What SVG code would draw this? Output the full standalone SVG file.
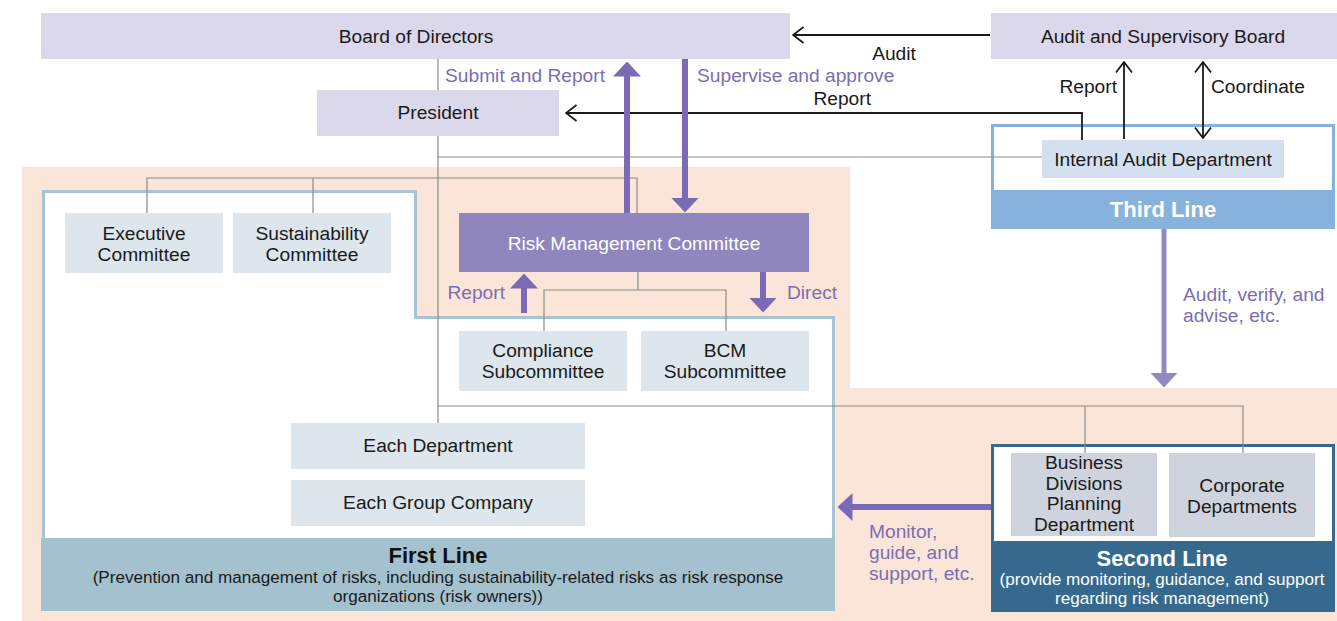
<svg xmlns="http://www.w3.org/2000/svg" width="1337" height="621" viewBox="0 0 1337 621">
  <style>
    text { font-family: "Liberation Sans", Arial, sans-serif; font-size: 19.2px; fill: #1a1a1a; }
    .c { text-anchor: middle; }
    .e { text-anchor: end; }
    .pl { fill: #7b6db5; }
    .w { fill: #ffffff; }
    .big { font-size: 22px; font-weight: bold; }
    .sub { font-size: 17.1px; }
    .lav { fill: #dcd8eb; }
    .box { fill: #dce6ec; }
    .box2 { fill: #cfd3de; }
    .wire { fill: none; stroke: #8a8a8a; stroke-width: 1.2; }
    .blk { fill: none; stroke: #1a1a1a; stroke-width: 1.8; }
    .pa { fill: none; stroke: #7a6bb4; stroke-width: 6; }
    .pa2 { fill: none; stroke: #9488c2; stroke-width: 5; }
  </style>
  <defs>
    <marker id="open" markerUnits="userSpaceOnUse" viewBox="0 0 13 18" markerWidth="13" markerHeight="18" refX="12" refY="9" orient="auto-start-reverse">
      <path d="M1.5,1 L12,9 L1.5,17" fill="none" stroke="#1a1a1a" stroke-width="1.8"/>
    </marker>
    <marker id="solid" markerUnits="userSpaceOnUse" viewBox="0 0 15 28" markerWidth="15" markerHeight="28" refX="0.5" refY="14" orient="auto">
      <path d="M0,0 L15,14 L0,28 Z" fill="#7a6bb4"/>
    </marker>
    <marker id="solid2" markerUnits="userSpaceOnUse" viewBox="0 0 15 28" markerWidth="15" markerHeight="28" refX="0.5" refY="14" orient="auto">
      <path d="M0,0 L15,14 L0,28 Z" fill="#9488c2"/>
    </marker>
  </defs>

  <!-- shaded zone behind the first and second lines -->
  <path d="M22,167 H850 V388 H1337 V621 H22 Z" fill="#fbe5d9"/>

  <!-- first line frame -->
  <g id="first-line">
    <path d="M43.5,191.5 H415.5 V317.5 H833.5 V540 H43.5 Z" fill="#ffffff" stroke="#a6c4d3" stroke-width="3"/>
    <rect x="41" y="538" width="794" height="73" fill="#a3c1cf"/>
    <text class="c big" x="438" y="563" style="fill:#111">First Line</text>
    <text class="c sub" x="438" y="583">(Prevention and management of risks, including sustainability-related risks as risk response</text>
    <text class="c sub" x="438" y="602">organizations (risk owners))</text>
  </g>

  <!-- second line frame -->
  <g id="second-line">
    <rect x="992.5" y="445.5" width="341" height="150" fill="#ffffff" stroke="#356a8e" stroke-width="3"/>
    <rect x="991" y="541" width="344" height="71" fill="#356a8e"/>
    <text class="c big w" x="1162" y="566">Second Line</text>
    <text class="c sub w" x="1162" y="585">(provide monitoring, guidance, and support</text>
    <text class="c sub w" x="1162" y="604">regarding risk management)</text>
  </g>

  <!-- third line frame -->
  <g id="third-line">
    <rect x="992.5" y="125.5" width="341" height="90" fill="#ffffff" stroke="#87b2dd" stroke-width="3"/>
    <rect x="991" y="190" width="344" height="39" fill="#87b2dd"/>
    <text class="c big w" x="1163" y="217">Third Line</text>
  </g>

  <!-- connectors -->
  <g id="connectors">
    <!-- org-chart wiring -->
    <path class="wire" d="M438,59 V423"/>
    <path class="wire" d="M438,157 H1042"/>
    <path class="wire" d="M147,213 V178 H637 V213"/>
    <path class="wire" d="M313,178 V213"/>
    <path class="wire" d="M638,272 V290"/>
    <path class="wire" d="M544,331 V290 H726 V331"/>
    <path class="wire" d="M438,406 H1243 V453"/>
    <path class="wire" d="M1085,406 V453"/>

    <!-- reporting lines -->
    <path class="blk" d="M990,35 H793" marker-end="url(#open)"/>
    <path class="blk" d="M1082,140 V113 H566" marker-end="url(#open)"/>
    <path class="blk" d="M1124,139 V62" marker-end="url(#open)"/>
    <path class="blk" d="M1203,138 V62" marker-start="url(#open)" marker-end="url(#open)"/>

    <!-- purple flows -->
    <path class="pa" d="M627,213 V76" marker-end="url(#solid)"/>
    <path class="pa" d="M685,59 V198" marker-end="url(#solid)"/>
    <path class="pa" d="M524,313 V288" marker-end="url(#solid)"/>
    <path class="pa" d="M763,272 V298" marker-end="url(#solid)"/>
    <path class="pa2" d="M1164,229 V373" marker-end="url(#solid2)"/>
    <path class="pa" d="M991,507 H852" marker-end="url(#solid)"/>

    <!-- flow labels -->
    <text x="894" y="60" class="c">Audit</text>
    <text x="871" y="105" class="e">Report</text>
    <text x="1117" y="93" class="e">Report</text>
    <text x="1211" y="93">Coordinate</text>
    <text x="445" y="82" class="pl">Submit and Report</text>
    <text x="697" y="82" class="pl">Supervise and approve</text>
    <text x="505" y="299" class="e pl">Report</text>
    <text x="787" y="299" class="pl">Direct</text>
    <text x="1183" y="301" class="pl">Audit, verify, and</text>
    <text x="1183" y="322" class="pl">advise, etc.</text>
    <text x="869" y="538" class="pl">Monitor,</text>
    <text x="869" y="559" class="pl">guide, and</text>
    <text x="869" y="580" class="pl">support, etc.</text>
  </g>

  <!-- nodes -->
  <g id="board-of-directors">
    <rect class="lav" x="41" y="13" width="749" height="46"/>
    <text class="c" x="416" y="43">Board of Directors</text>
  </g>
  <g id="president">
    <rect class="lav" x="317" y="90" width="242" height="46"/>
    <text class="c" x="438" y="119">President</text>
  </g>
  <g id="audit-supervisory-board">
    <rect class="lav" x="991" y="13" width="346" height="46"/>
    <text class="c" x="1163" y="43">Audit and Supervisory Board</text>
  </g>
  <g id="internal-audit-department">
    <rect x="1042" y="140" width="242" height="38" fill="#d4e0ef"/>
    <text class="c" x="1163" y="166">Internal Audit Department</text>
  </g>
  <g id="executive-committee">
    <rect class="box" x="65" y="213" width="158" height="60"/>
    <text class="c" x="144" y="240">Executive</text>
    <text class="c" x="144" y="261">Committee</text>
  </g>
  <g id="sustainability-committee">
    <rect class="box" x="233" y="213" width="158" height="60"/>
    <text class="c" x="312" y="240">Sustainability</text>
    <text class="c" x="312" y="261">Committee</text>
  </g>
  <g id="risk-management-committee">
    <rect x="459" y="213" width="350" height="59" fill="#9086be"/>
    <text class="c w" x="634" y="250">Risk Management Committee</text>
  </g>
  <g id="compliance-subcommittee">
    <rect class="box" x="459" y="331" width="168" height="60"/>
    <text class="c" x="543" y="357">Compliance</text>
    <text class="c" x="543" y="378">Subcommittee</text>
  </g>
  <g id="bcm-subcommittee">
    <rect class="box" x="641" y="331" width="168" height="60"/>
    <text class="c" x="725" y="357">BCM</text>
    <text class="c" x="725" y="378">Subcommittee</text>
  </g>
  <g id="each-department">
    <rect class="box" x="291" y="423" width="294" height="46"/>
    <text class="c" x="438" y="452">Each Department</text>
  </g>
  <g id="each-group-company">
    <rect class="box" x="291" y="480" width="294" height="46"/>
    <text class="c" x="438" y="509">Each Group Company</text>
  </g>
  <g id="business-divisions-planning">
    <rect class="box2" x="1011" y="453" width="146" height="83"/>
    <text class="c" x="1084" y="469">Business</text>
    <text class="c" x="1084" y="490">Divisions</text>
    <text class="c" x="1084" y="510">Planning</text>
    <text class="c" x="1084" y="531">Department</text>
  </g>
  <g id="corporate-departments">
    <rect class="box2" x="1169" y="453" width="146" height="84"/>
    <text class="c" x="1242" y="492">Corporate</text>
    <text class="c" x="1242" y="513">Departments</text>
  </g>
</svg>
